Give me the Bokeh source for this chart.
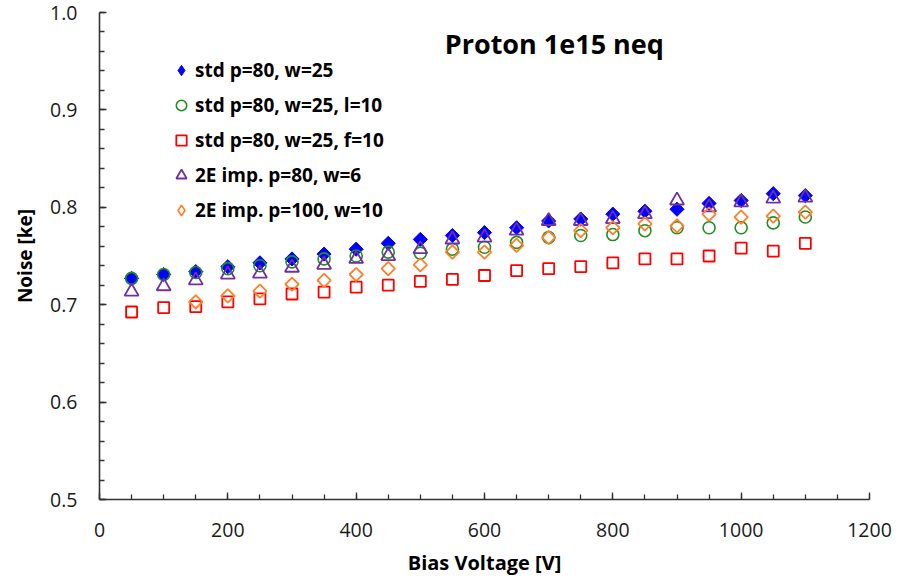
import numpy as np
from bokeh.plotting import figure
from bokeh.models import (SingleIntervalTicker, PrintfTickFormatter, Legend,
                          LegendItem, Label)
from bokeh.embed import file_html
from bokeh.resources import INLINE

# Bias voltage steps [V]
bias = [50, 100, 150, 200, 250, 300, 350, 400, 450, 500, 550,
        600, 650, 700, 750, 800, 850, 900, 950, 1000, 1050, 1100]
bias_2e_p100 = bias[2:]

# Noise [ke] per sensor type
noise_std = [0.727, 0.731, 0.734, 0.739, 0.743, 0.747, 0.752, 0.757, 0.763, 0.767, 0.771,
             0.774, 0.779, 0.786, 0.788, 0.793, 0.796, 0.798, 0.804, 0.807, 0.814, 0.812]
noise_std_l10 = [0.727, 0.731, 0.733, 0.737, 0.740, 0.744, 0.747, 0.750, 0.754, 0.753, 0.757,
                 0.759, 0.764, 0.769, 0.771, 0.772, 0.776, 0.779, 0.779, 0.779, 0.784, 0.790]
noise_std_f10 = [0.6925, 0.697, 0.698, 0.703, 0.706, 0.711, 0.713, 0.718, 0.720, 0.724, 0.726,
                 0.730, 0.735, 0.737, 0.739, 0.743, 0.747, 0.747, 0.750, 0.758, 0.755, 0.763]
noise_2e_p80 = [0.7135, 0.719, 0.725, 0.731, 0.732, 0.738, 0.741, 0.747, 0.750, 0.757, 0.767,
                0.769, 0.776, 0.786, 0.786, 0.788, 0.793, 0.807, 0.800, 0.805, 0.809, 0.810]
noise_2e_p100 = [0.703, 0.709, 0.714, 0.721, 0.725, 0.731, 0.737, 0.741, 0.754,
                 0.754, 0.761, 0.769, 0.776, 0.779, 0.783, 0.781, 0.793, 0.790, 0.791, 0.795]

labels = ["std p=80, w=25",
          "std p=80, w=25, l=10",
          "std p=80, w=25, f=10",
          "2E imp. p=80, w=6",
          "2E imp. p=100, w=10"]

x_ticks_interval = 200
y_ticks_interval = 0.1

p = figure(width=920, height=578, x_range=(0, 1200), y_range=(0.5, 1.0),
           output_backend="svg", toolbar_location=None,
           min_border_left=99, min_border_right=51,
           min_border_top=12, min_border_bottom=79)
p.outline_line_color = None
p.xgrid.grid_line_color = None
p.ygrid.grid_line_color = None
p.background_fill_color = "white"
p.border_fill_color = "white"

axis_color = "#333333"
for ax in (p.xaxis[0], p.yaxis[0]):
    ax.axis_line_color = axis_color
    ax.axis_line_width = 1.6
    ax.major_tick_line_color = axis_color
    ax.minor_tick_line_color = axis_color
    ax.major_tick_line_width = 1.3
    ax.minor_tick_line_width = 1.3
    ax.major_tick_in = 7
    ax.major_tick_out = 0
    ax.minor_tick_in = 5
    ax.minor_tick_out = 0
    ax.major_label_text_color = "#1a1a1a"
    ax.major_label_text_font = "Open Sans"
    ax.major_label_text_font_size = "19.5px"
    ax.axis_label_text_color = "#000000"
    ax.axis_label_text_font_style = "bold"
    ax.axis_label_text_font = "Open Sans"

p.xaxis.ticker = SingleIntervalTicker(interval=x_ticks_interval, num_minor_ticks=4)
p.yaxis.ticker = SingleIntervalTicker(interval=y_ticks_interval, num_minor_ticks=5)
p.yaxis.formatter = PrintfTickFormatter(format="%.1f")

p.xaxis.major_label_standoff = 23
p.xaxis.axis_label = "Bias Voltage [V]"
p.xaxis.axis_label_standoff = 9
p.xaxis.axis_label_text_font_size = "20px"

p.yaxis.major_label_standoff = 22
p.yaxis.axis_label = "Noise [ke]"
p.yaxis.axis_label_standoff = 9
p.yaxis.axis_label_text_font_size = "19px"

# data markers (diamonds are squares turned by 45 degrees)
r_std = p.scatter(bias, noise_std, marker="square", angle=np.pi / 4, size=10,
                  fill_color="#0000ff", line_color="#0000ff", line_width=1)
r_l10 = p.scatter(bias, noise_std_l10, marker="circle", size=12,
                  fill_color=None, line_color="#1f8f1f", line_width=1.6)
r_f10 = p.scatter(bias, noise_std_f10, marker="square", size=11,
                  fill_color=None, line_color="#ff0000", line_width=1.8)
r_2e80 = p.scatter(bias, noise_2e_p80, marker="triangle", size=14,
                   fill_color=None, line_color="#7030a0", line_width=1.8)
r_2e100 = p.scatter(bias_2e_p100, noise_2e_p100, marker="square", angle=np.pi / 4, size=9.5,
                    fill_color=None, line_color="#ff7f2a", line_width=1.8)

# legend swatches for the diamond series: hidden renderers whose (unrotated)
# diamond glyph is only drawn inside the legend
k_std = p.scatter(bias, noise_std, marker="diamond", fill_color="#0000ff",
                  line_color="#0000ff", line_width=1, visible=False)
k_2e100 = p.scatter(bias_2e_p100, noise_2e_p100, marker="diamond", fill_color=None,
                    line_color="#ff7f2a", line_width=1.6, visible=False)

legend = Legend(
    items=[LegendItem(label=lab, renderers=[r])
           for lab, r in zip(labels, [k_std, r_l10, r_f10, r_2e80, k_2e100])],
    location=(69, 276),
    glyph_width=26, glyph_height=26, label_height=26, spacing=9,
    padding=0, margin=0, label_standoff=1,
    border_line_color=None, background_fill_alpha=0,
    inactive_fill_alpha=0,
    label_text_font="Open Sans", label_text_font_style="bold",
    label_text_font_size="19px", label_text_color="#000000",
)
p.add_layout(legend)

title = Label(x=538, y=0.968, text="Proton 1e15 neq",
              text_font="Open Sans", text_font_style="bold",
              text_font_size="27px", text_baseline="middle", text_align="left",
              text_color="#000000")
p.add_layout(title)

open("out.html", "w").write(file_html(p, INLINE))
